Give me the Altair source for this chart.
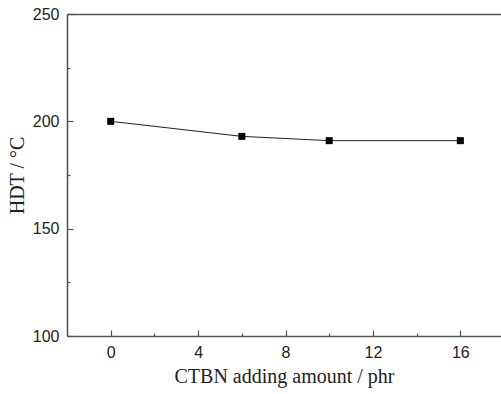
import altair as alt
import pandas as pd

ctbn = [0, 6, 10, 16]
hdt = [200, 193, 191, 191]
x_major = [0, 4, 8, 12, 16]
x_minor = [2, 6, 10, 14]
y_major = [100, 150, 200, 250]
y_minor = [125, 175, 225]

df = pd.DataFrame({"x": ctbn, "y": hdt})

W, H = 434, 322
xs = alt.Scale(domain=[-2, 17.86], nice=False, zero=False)
ys = alt.Scale(domain=[100, 250], nice=False, zero=False)

lab_font = "Liberation Sans"
ttl_font = "Liberation Serif"
frame = "#555555"
fw = 1.6

base = alt.Chart(df)

line = base.mark_line(color="#222222", strokeWidth=1).encode(
    x=alt.X("x:Q", scale=xs, axis=alt.Axis(
        values=x_major, ticks=False, domain=True, domainColor=frame, domainWidth=fw,
        grid=False,
        labelFont=lab_font, labelFontSize=16, labelColor="#222222", labelPadding=8,
        title="CTBN adding amount / phr", titleFont=ttl_font, titleFontSize=20,
        titleFontWeight="normal", titleColor="#222222", titlePadding=6)),
    y=alt.Y("y:Q", scale=ys, axis=alt.Axis(
        values=y_major, ticks=False, domain=True, domainColor=frame, domainWidth=fw,
        grid=False,
        labelFont=lab_font, labelFontSize=16, labelColor="#222222", labelPadding=8,
        title="HDT / °C", titleFont=ttl_font, titleFontSize=20,
        titleFontWeight="normal", titleColor="#222222", titlePadding=5)),
)

pts = base.mark_square(color="black", size=49, opacity=1).encode(
    x=alt.X("x:Q", scale=xs, axis=None), y=alt.Y("y:Q", scale=ys, axis=None))

top_frame = base.mark_point(opacity=0).encode(
    x=alt.X("x:Q", scale=xs, axis=alt.Axis(
        orient="top", ticks=False, labels=False, grid=False, domain=True,
        domainColor=frame, domainWidth=fw, title=None)),
    y=alt.Y("y:Q", scale=ys, axis=None),
)

def tick_layer(xvals, yvals, size):
    return base.mark_point(opacity=0).encode(
        x=alt.X("x:Q", scale=xs, axis=alt.Axis(
            orient="top", offset=-H, values=xvals, labels=False, domain=False,
            grid=False, tickSize=size, tickColor=frame, tickWidth=1.2, title=None)),
        y=alt.Y("y:Q", scale=ys, axis=alt.Axis(
            orient="right", offset=-W, values=yvals, labels=False, domain=False,
            grid=False, tickSize=size, tickColor=frame, tickWidth=1.2, title=None)),
    )

chart = alt.layer(
    tick_layer(x_major, y_major, 6),
    tick_layer(x_minor, y_minor, 3),
    top_frame,
    line, pts,
).resolve_axis(x="independent", y="independent").properties(
    width=W, height=H,
    background="white",
    autosize=alt.AutoSizeParams(type="none"),
    padding={"left": 67, "top": 14, "right": 0, "bottom": 58},
).configure_view(stroke=None)

chart.save("out.html", embed_options={"renderer": "svg", "actions": False})
